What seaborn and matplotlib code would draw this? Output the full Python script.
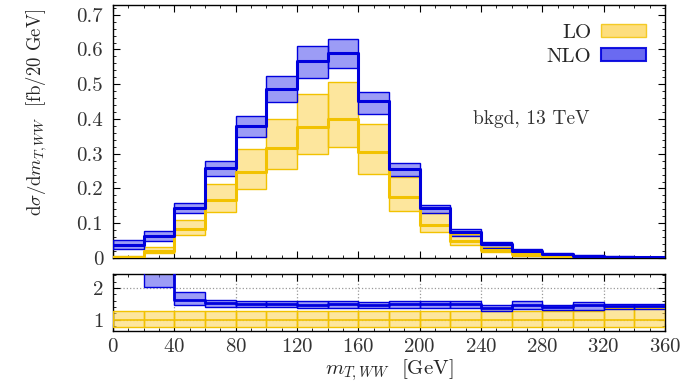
import numpy as np
import pandas as pd
import matplotlib
matplotlib.use("Agg")
import matplotlib.pyplot as plt
import seaborn as sns
from matplotlib.patches import Patch
from matplotlib.ticker import MultipleLocator

# bin edges [GeV]
edges = np.arange(0, 361, 20)

# main panel: dsigma/dm_T,WW [fb/20 GeV]
lo_c = [0.004, 0.021, 0.083, 0.166, 0.248, 0.316, 0.376, 0.400, 0.304, 0.174,
        0.096, 0.050, 0.024, 0.012, 0.004, 0.002, 0.001, 0.001]
lo_dn = [0.002, 0.013, 0.065, 0.132, 0.198, 0.256, 0.299, 0.318, 0.241, 0.135,
         0.074, 0.036, 0.017, 0.007, 0.002, 0.001, 0.0005, 0.0004]
lo_up = [0.007, 0.031, 0.108, 0.212, 0.315, 0.400, 0.472, 0.506, 0.386, 0.233,
         0.130, 0.068, 0.032, 0.017, 0.007, 0.004, 0.002, 0.0015]
nlo_c = [0.038, 0.063, 0.143, 0.260, 0.379, 0.486, 0.566, 0.591, 0.451, 0.256,
         0.143, 0.075, 0.039, 0.021, 0.010, 0.005, 0.003, 0.002]
nlo_dn = [0.025, 0.050, 0.129, 0.236, 0.347, 0.448, 0.519, 0.548, 0.415, 0.236,
          0.130, 0.063, 0.029, 0.014, 0.005, 0.003, 0.001, 0.001]
nlo_up = [0.052, 0.077, 0.159, 0.278, 0.408, 0.523, 0.611, 0.630, 0.479, 0.273,
          0.152, 0.084, 0.046, 0.027, 0.014, 0.008, 0.005, 0.003]

# ratio panel (normalised to LO central)
rlo_dn = [0.77] * 18
rlo_up = [1.26] * 9 + [1.28] * 7 + [1.36] * 2
rnlo_c = [9.0, 3.0, 1.63, 1.53, 1.49, 1.49, 1.47, 1.49, 1.47, 1.49,
          1.49, 1.49, 1.37, 1.45, 1.39, 1.45, 1.44, 1.44]
rnlo_dn = [6.0, 2.03, 1.47, 1.39, 1.39, 1.39, 1.37, 1.37, 1.37, 1.37,
           1.37, 1.37, 1.29, 1.35, 1.32, 1.32, 1.35, 1.35]
rnlo_up = [12.0, 4.0, 1.86, 1.63, 1.60, 1.60, 1.60, 1.58, 1.56, 1.58,
           1.58, 1.58, 1.47, 1.58, 1.45, 1.55, 1.49, 1.49]

yellow_fill = "#fdd65c"
yellow_edge = "#f2c200"
blue_fill = "#5a5af0"
blue_edge = "#0000dd"

plt.close("all")
sns.set_theme(style="ticks")
plt.rcParams["font.family"] = ["cmr10", "DejaVu Serif"]
plt.rcParams["mathtext.fontset"] = "cm"
plt.rcParams["axes.formatter.use_mathtext"] = True
plt.rcParams["axes.unicode_minus"] = False

fig = plt.figure(figsize=(6.8, 3.85), dpi=100)
ax1 = fig.add_axes([0.166, 0.330, 0.812, 0.657])
ax2 = fig.add_axes([0.166, 0.140, 0.812, 0.148])


def step_df(vals):
    return pd.DataFrame({"x": edges, "y": list(vals) + [vals[-1]]})


def draw(ax, c, dn, up, fill, edge, lw_c=2.2, alpha=0.6):
    dn = np.asarray(dn)
    up = np.asarray(up)
    ax.bar(edges[:-1], up - dn, bottom=dn, width=20, align="edge",
           color=fill, alpha=alpha, edgecolor="none", zorder=2)
    ax.bar(edges[:-1], up - dn, bottom=dn, width=20, align="edge",
           facecolor="none", edgecolor=edge, linewidth=1.0, zorder=3)
    if c is not None:
        sns.lineplot(data=step_df(c), x="x", y="y", drawstyle="steps-post",
                     color=edge, linewidth=lw_c, ax=ax, zorder=4,
                     estimator=None, sort=False)


draw(ax1, lo_c, lo_dn, lo_up, yellow_fill, yellow_edge)
draw(ax1, nlo_c, nlo_dn, nlo_up, blue_fill, blue_edge)

ax1.set_xlim(0, 360)
ax1.set_ylim(0, 0.728)
ax1.set_xticks(np.arange(0, 361, 40))
ax1.set_xticklabels([])
ax1.xaxis.set_minor_locator(MultipleLocator(10))
ax1.set_yticks(np.arange(0, 0.71, 0.1))
ax1.set_yticklabels(["0", "0.1", "0.2", "0.3", "0.4", "0.5", "0.6", "0.7"])
ax1.yaxis.set_minor_locator(MultipleLocator(0.02))
ax1.set_xlabel("")
ax1.set_ylabel(r"$\mathrm{d}\sigma/\mathrm{d}m_{T,WW}$  [fb/20 GeV]", fontsize=13.5)
ax1.yaxis.set_label_coords(-0.115, 0.575)

ax1.text(273, 0.40, "bkgd, 13 TeV", ha="center", va="center", fontsize=14,
         color="#333333")

handles = [Patch(facecolor=yellow_fill, edgecolor=yellow_edge, alpha=0.8),
           Patch(facecolor=blue_fill, edgecolor=blue_edge, linewidth=1.5, alpha=0.9)]
ax1.legend(handles, ["LO", "NLO"], loc="upper right", frameon=False,
           markerfirst=False, fontsize=15, handlelength=2.15, handleheight=0.6,
           borderaxespad=0.5, labelspacing=0.3, handletextpad=0.5)

# ratio panel
draw(ax2, [1.0] * 18, rlo_dn, rlo_up, yellow_fill, yellow_edge, lw_c=1.2)
draw(ax2, rnlo_c, rnlo_dn, rnlo_up, blue_fill, blue_edge, lw_c=2.0)
ax2.set_xlim(0, 360)
ax2.set_ylim(0.64, 2.44)
ax2.set_xticks(np.arange(0, 361, 40))
ax2.xaxis.set_minor_locator(MultipleLocator(10))
ax2.set_yticks([1, 2])
ax2.set_yticklabels(["1", "2"])
ax2.yaxis.set_minor_locator(MultipleLocator(0.2))
ax2.grid(True, which="major", color="#999999", linestyle=":", linewidth=0.9)
ax2.set_axisbelow(True)
ax2.set_ylabel("")
ax2.set_xlabel(r"$m_{T,WW}$  [GeV]", fontsize=15, labelpad=1)

for ax in (ax1, ax2):
    ax.tick_params(which="both", direction="in", top=True, right=True,
                   color="black", labelsize=15)
    ax.tick_params(axis="y", pad=7)
    ax.tick_params(axis="x", pad=5)
    ax.tick_params(which="major", length=5, width=0.8)
    ax.tick_params(which="minor", length=2.5, width=0.6)
    for s in ax.spines.values():
        s.set_color("black")
        s.set_linewidth(1.0)
    for lab in ax.get_xticklabels() + ax.get_yticklabels():
        lab.set_color("#333333")

fig.savefig("out.png", dpi=100)
